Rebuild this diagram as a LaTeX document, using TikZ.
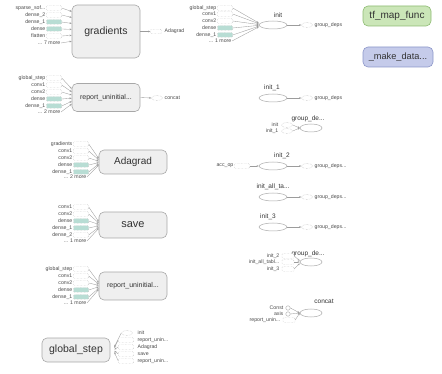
\documentclass[tikz,border=0pt]{standalone}
\usepackage{fontspec}
\setsansfont{Liberation Sans}
\usetikzlibrary{shapes.geometric,arrows.meta,calc}
\definecolor{txt}{HTML}{333333}
\definecolor{smalltxt}{HTML}{4A4A4A}
\definecolor{boxfill}{HTML}{EFEFEF}
\definecolor{boxline}{HTML}{A8A8A8}
\definecolor{dotline}{HTML}{B4B4B4}
\definecolor{tealfill}{HTML}{B8DDD4}
\definecolor{edgecol}{HTML}{9C9C9C}
\definecolor{greenfill}{HTML}{CBE6B8}
\definecolor{greenline}{HTML}{8DBB72}
\definecolor{bluefill}{HTML}{C5CBEA}
\definecolor{blueline}{HTML}{8C96C8}
% three dots that \foreach will not read as a range
\newcommand\tdots{...}
\tikzset{
  every node/.style={font=\sffamily, text=txt},
  opbox/.style={draw=boxline, fill=boxfill, rounded corners=5pt, line width=0.6pt, inner sep=0},
  inp/.style={draw=dotline, densely dotted, minimum width=15pt, minimum height=4.5pt, inner sep=0, rounded corners=1pt},
  inpell/.style={ellipse, draw=dotline, densely dotted, fill=white, minimum width=11pt, minimum height=5pt, inner sep=0},
  lab/.style={font=\sffamily\fontsize{5.2}{6}\selectfont, text=smalltxt, inner sep=0.5pt, anchor=east},
  rlab/.style={font=\sffamily\fontsize{5.2}{6}\selectfont, text=smalltxt, inner sep=0.5pt, anchor=west},
  oplab/.style={font=\sffamily\fontsize{6.5}{7}\selectfont, inner sep=0.5pt},
  opell/.style={ellipse, draw=boxline, fill=white, line width=0.5pt, minimum width=28pt, minimum height=8pt, inner sep=0},
  conn/.style={draw=edgecol, line width=0.35pt, -{Stealth[length=2.2pt,width=1.8pt]}},
}
\begin{document}
\begin{tikzpicture}[x=1pt,y=-1pt]
\useasboundingbox (0,0) rectangle (442,374);

% ---------- gradients ----------
\node[opbox, minimum width=68pt, minimum height=53pt] (grad) at (106,31.5) {\fontsize{10.5}{12}\selectfont gradients};
\foreach \t/\y/\f [count=\i] in {sparse\_sof\tdots/8/white, dense\_2/15/white, dense\_1/22/tealfill, dense/29/tealfill, flatten/36/white}{
  \node[inp, fill=\f] (ga\i) at (54,\y) {};
  \node[lab] (gl\i) at (46,\y) {\t};
  \draw[conn] (ga\i.east) -- ([yshift={(31.5-\y)*0.85*1pt}]grad.west);
}
\node[lab] (gm) at (61,43) {... 7 more};
\draw[conn] (gm.east) -- ([yshift={(31.5-43)*0.85*1pt}]grad.west);
\node[inp, fill=white, minimum width=11pt] (gout) at (156,31.5) {};
\node[rlab] (goutl) at (164,31.5) {Adagrad};
\draw[conn] (grad.east) -- (gout.west);

% ---------- report_uninitialized (upper) ----------
\node[opbox, minimum width=68pt, minimum height=28pt] (rep) at (106,97.5) {\fontsize{7}{8}\selectfont report\_uninitial...};
\foreach \t/\y/\f [count=\i] in {global\_step/78/white, conv1/85/white, conv2/92/white, dense/99/tealfill, dense\_1/106/tealfill}{
  \node[inp, fill=\f] (ra\i) at (54,\y) {};
  \node[lab] (rl\i) at (46,\y) {\t};
  \draw[conn] (ra\i.east) -- ([yshift={(97.5-\y)*0.45*1pt}]rep.west);
}
\node[lab] (rm) at (61,112) {... 2 more};
\draw[conn] (rm.east) -- ([yshift={(97.5-112)*0.45*1pt}]rep.west);
\node[inpell] (rout) at (157,98) {};
\node[rlab] (routl) at (164,98) {concat};
\draw[conn] (rep.east) -- (rout.west);

% ---------- Adagrad ----------
\node[opbox, minimum width=68pt, minimum height=24pt] (ada) at (133,162) {\fontsize{10}{12}\selectfont Adagrad};
\foreach \t/\y/\f [count=\i] in {gradients/144/white, conv1/151/white, conv2/158/white, dense/165/tealfill, dense\_1/172/tealfill}{
  \node[inp, fill=\f] (aa\i) at (81,\y) {};
  \node[lab] (al\i) at (73,\y) {\t};
  \draw[conn] (aa\i.east) -- ([yshift={(162-\y)*0.2*1pt}]ada.west);
}
\node[lab] (am) at (87,177) {... 2 more};
\draw[conn] (am.east) -- ([yshift={(162-177)*0.2*1pt}]ada.west);

% ---------- save ----------
\node[opbox, minimum width=68pt, minimum height=26pt] (sav) at (133,225) {\fontsize{11}{12}\selectfont save};
\foreach \t/\y/\f [count=\i] in {conv1/207/white, conv2/214/white, dense/221/tealfill, dense\_1/228/tealfill, dense\_2/235/white}{
  \node[inp, fill=\f] (sa\i) at (81,\y) {};
  \node[lab] (sl\i) at (73,\y) {\t};
  \draw[conn] (sa\i.east) -- ([yshift={(224-\y)*0.2*1pt}]sav.west);
}
\node[lab] (sm) at (87,241) {... 1 more};
\draw[conn] (sm.east) -- ([yshift={(224-241)*0.2*1pt}]sav.west);

% ---------- report_uninitialized (lower) ----------
\node[opbox, minimum width=68pt, minimum height=28pt] (rep2) at (133,286) {\fontsize{7}{8}\selectfont report\_uninitial...};
\foreach \t/\y/\f [count=\i] in {global\_step/269/white, conv1/276/white, conv2/283/white, dense/290/tealfill, dense\_1/297/tealfill}{
  \node[inp, fill=\f] (pa\i) at (81,\y) {};
  \node[lab] (pl\i) at (73,\y) {\t};
  \draw[conn] (pa\i.east) -- ([yshift={(286-\y)*0.2*1pt}]rep2.west);
}
\node[lab] (pm) at (87,303) {... 1 more};
\draw[conn] (pm.east) -- ([yshift={(286-303)*0.2*1pt}]rep2.west);

% ---------- global_step (reference edges point back at the variable) ----------
\node[opbox, minimum width=68pt, minimum height=24pt] (gs) at (76,350) {\fontsize{10.5}{12}\selectfont global\_step};
\node[inpell] (go1) at (127,333) {};
\node[rlab] (gol1) at (137,333) {init};
\draw[conn] (go1.west) -- ([xshift=4pt,yshift=3pt]gs.east);
\foreach \t/\y [count=\i from 2] in {report\_unin\tdots/340, Adagrad/347, save/354, report\_unin\tdots/361}{
  \node[inp, fill=white] (go\i) at (126,\y) {};
  \node[rlab] (gol\i) at (137,\y) {\t};
  \draw[conn] (go\i.west) -- ([xshift=4pt,yshift={(350-\y)*0.2*1pt}]gs.east);
}

% ---------- init ----------
\node[opell] (init) at (273,25) {};
\node[oplab] (initl) at (278,15) {init};
\foreach \t/\y/\f [count=\i] in {global\_step/8/white, conv1/14/white, conv2/21/white, dense/28/tealfill, dense\_1/35/tealfill}{
  \node[inp, fill=\f] (ia\i) at (225,\y) {};
  \node[lab] (il\i) at (217,\y) {\t};
  \draw[conn] (ia\i.east) -- ([yshift={(25-\y)*0.12*1pt}]init.west);
}
\node[lab] (im) at (232,41) {... 1 more};
\draw[conn] (im.east) -- ([yshift={(25-41)*0.12*1pt}]init.west);
\node[inpell] (io) at (307,25) {};
\node[rlab] (iol) at (314,25) {group\_deps};
\draw[conn] (init.east) -- (io.west);

% ---------- init_1 ----------
\node[opell] (init1) at (273,98) {};
\node[oplab] (init1l) at (272,88) {init\_1};
\node[inpell] (i1o) at (307,98) {};
\node[rlab] (i1ol) at (314,98) {group\_deps};
\draw[conn] (init1.east) -- (i1o.west);

% ---------- group_deps (upper) ----------
\node[opell, minimum width=22pt] (gd1) at (311,128) {};
\node[oplab] (gd1l) at (308,119) {group\_de...};
\node[inpell] (gd1a) at (287,125) {};
\node[lab] (gd1al) at (279,125) {init};
\node[inpell] (gd1b) at (287,131) {};
\node[lab] (gd1bl) at (279,131) {init\_1};
\draw[conn] (gd1a.east) -- (gd1.west);
\draw[conn] (gd1b.east) -- (gd1.west);

% ---------- init_2 ----------
\node[opell] (init2) at (273,166) {};
\node[oplab] (init2l) at (282,156) {init\_2};
\node[inp, fill=white] (acc) at (242,166) {};
\node[lab] (accl) at (234,166) {acc\_op};
\draw[conn] (acc.east) -- (init2.west);
\node[inpell] (i2o) at (307,166) {};
\node[rlab] (i2ol) at (314,166) {group\_deps...};
\draw[conn] (init2.east) -- (i2o.west);

% ---------- init_all_tables ----------
\node[opell] (iat) at (273,197) {};
\node[oplab] (iatl) at (273,187) {init\_all\_ta...};
\node[inpell] (iato) at (307,197) {};
\node[rlab] (iatol) at (314,197) {group\_deps...};
\draw[conn] (iat.east) -- (iato.west);

% ---------- init_3 ----------
\node[opell] (init3) at (273,227) {};
\node[oplab] (init3l) at (268,217) {init\_3};
\node[inpell] (i3o) at (307,227) {};
\node[rlab] (i3ol) at (314,227) {group\_deps...};
\draw[conn] (init3.east) -- (i3o.west);

% ---------- group_deps (lower) ----------
\node[opell, minimum width=22pt] (gd2) at (311,262) {};
\node[oplab] (gd2l) at (308,254) {group\_de...};
\foreach \t/\y [count=\i] in {init\_2/256, init\_all\_tabl\tdots/262, init\_3/269}{
  \node[inp, fill=white, minimum width=12pt] (gb\i) at (288,\y) {};
  \node[lab] (gbl\i) at (280,\y) {\t};
  \draw[conn] (gb\i.east) -- ([yshift={(262-\y)*0.2*1pt}]gd2.west);
}

% ---------- concat ----------
\node[opell, minimum width=22pt] (cc) at (311,313) {};
\node[oplab] (ccl) at (324,301) {concat};
\node[circle, draw=boxline, fill=white, minimum size=4.5pt, inner sep=0] (cst) at (288,308) {};
\node[lab] (cstl) at (284,308) {Const};
\node[circle, draw=boxline, fill=white, minimum size=4.5pt, inner sep=0] (ax) at (288,314) {};
\node[lab] (axl) at (284,314) {axis};
\node[inp, fill=white, minimum width=12pt] (ru) at (289,320) {};
\node[lab] (rul) at (281,320) {report\_unin...};
\draw[conn] (cst.east) -- (cc.west);
\draw[conn] (ax.east) -- (cc.west);
\draw[conn] (ru.east) -- (cc.west);

% ---------- function nodes ----------
\node[draw=greenline, fill=greenfill, rounded corners=5pt, line width=0.6pt, minimum width=68pt, minimum height=20pt, inner sep=0] (tfm) at (397,16) {\fontsize{10}{12}\selectfont tf\_map\_func};
\node[draw=blueline, fill=bluefill, rounded corners=5pt, line width=0.6pt, minimum width=70pt, minimum height=20pt, inner sep=0] (mkd) at (398,57) {\fontsize{9.2}{11}\selectfont \_make\_data...};
\end{tikzpicture}
\end{document}
